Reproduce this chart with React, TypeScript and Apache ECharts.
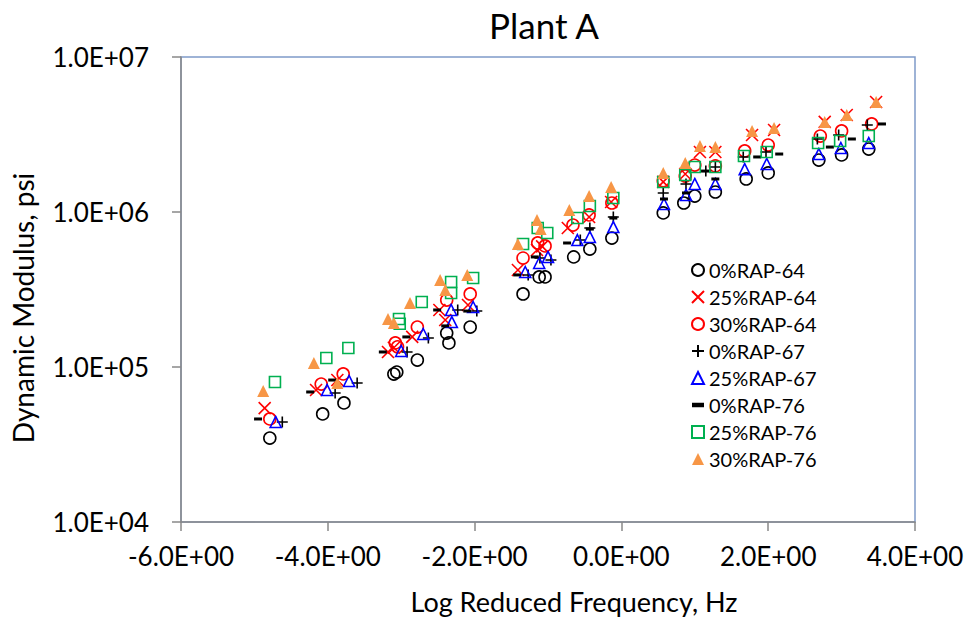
import React, { useEffect, useRef } from "react";
import * as echarts from "echarts";

// Dynamic modulus master curves, Plant A: [log reduced frequency (Hz), |E*| (psi)]
const rap0_64: [number, number][] = [
  [-4.79, 34800], [-4.07, 49800], [-3.78, 58600], [-3.1, 90000], [-3.06, 92800], [-2.78, 110900],
  [-2.38, 165600], [-2.35, 142900], [-2.06, 181100], [-1.34, 295800], [-1.12, 381100], [-1.04, 381100],
  [-0.65, 512900], [-0.43, 576800], [-0.13, 679200], [0.57, 986300], [0.85, 1143000], [1.0, 1268000],
  [1.28, 1346000], [1.7, 1633000], [2.0, 1786000], [2.69, 2163000], [3.0, 2333000], [3.37, 2547000],
];
const rap25_64: [number, number][] = [
  [-4.86, 54300], [-4.16, 71100], [-3.87, 82400], [-3.18, 125000], [-3.1, 133000], [-2.85, 156300],
  [-2.48, 233300], [-2.4, 200900], [-2.09, 251200], [-1.41, 422700], [-1.15, 568900], [-1.08, 600000],
  [-0.73, 788900], [-0.44, 929000], [-0.14, 1161000], [0.57, 1563000], [0.87, 1758000], [1.07, 2438000],
  [1.28, 2438000], [1.78, 3141000], [2.08, 3381000], [2.77, 3811000], [3.07, 4227000], [3.47, 5129000],
];
const rap30_64: [number, number][] = [
  [-4.79, 46200], [-4.09, 77600], [-3.79, 90200], [-3.08, 142900], [-3.05, 135000], [-2.78, 181100],
  [-2.38, 270400], [-2.06, 295800], [-1.34, 504700], [-1.14, 631000], [-1.04, 603900], [-0.66, 824100],
  [-0.44, 957100], [-0.13, 1143000], [0.57, 1590000], [0.87, 1706000], [1.0, 2009000], [1.28, 1982000],
  [1.68, 2477000], [2.0, 2704000], [2.71, 3090000], [3.0, 3334000], [3.41, 3698000],
];
const rap0_67: [number, number][] = [
  [-4.62, 44200], [-3.9, 67900], [-3.6, 78900], [-2.92, 125000], [-2.63, 153800], [-2.23, 233300],
  [-1.97, 229600], [-1.27, 392600], [-1.11, 504700], [-0.96, 489800], [-0.56, 659200], [-0.43, 788900],
  [-0.11, 929000], [0.57, 1327000], [0.88, 1517000], [1.15, 1837000], [1.28, 1950000], [1.66, 2265000],
  [1.97, 2438000], [2.67, 2958000], [2.96, 3141000], [3.35, 3639000],
];
const rap25_67: [number, number][] = [
  [-4.71, 44200], [-4.01, 71100], [-3.71, 81300], [-3.0, 126800], [-2.7, 163300], [-2.32, 233300],
  [-2.31, 195000], [-2.02, 243800], [-1.31, 410200], [-1.12, 468800], [-1.0, 512900], [-0.6, 659200],
  [-0.43, 690200], [-0.11, 799800], [0.58, 1127000], [0.88, 1288000], [1.0, 1517000], [1.28, 1517000],
  [1.68, 1892000], [1.98, 2042000], [2.69, 2366000], [2.99, 2588000], [3.37, 2786000],
];
const rap0_76: [number, number][] = [
  [-4.95, 46200], [-4.24, 69000], [-3.94, 82400], [-3.25, 125000], [-2.93, 156300], [-2.51, 233300],
  [-2.4, 184100], [-2.1, 229600], [-1.42, 392600], [-1.18, 512900], [-0.74, 631000], [-0.43, 776200],
  [-0.11, 914100], [0.58, 1213000], [0.88, 1327000], [1.14, 1837000], [1.28, 1633000], [1.85, 2265000],
  [2.15, 2366000], [2.84, 2624000], [3.14, 2958000], [3.55, 3698000],
];
const rap25_76: [number, number][] = [
  [-4.72, 80000], [-4.02, 114300], [-3.72, 132700], [-3.03, 204200], [-3.02, 190000], [-2.72, 262400],
  [-2.32, 353200], [-2.32, 299900], [-2.02, 375000], [-1.34, 622300], [-1.14, 788900], [-1.01, 732800],
  [-0.6, 914100], [-0.43, 1094000], [-0.11, 1230000], [0.57, 1563000], [0.87, 1734000], [1.0, 1950000],
  [1.28, 1950000], [1.67, 2296000], [1.98, 2438000], [2.68, 2786000], [2.98, 2871000], [3.37, 3090000],
];
const rap30_76: [number, number][] = [
  [-4.88, 70000], [-4.19, 106200], [-3.87, 78900], [-3.18, 204200], [-3.1, 192300], [-2.88, 258800],
  [-2.47, 363900], [-2.4, 314100], [-2.1, 392600], [-1.41, 622300], [-1.15, 887200], [-1.1, 776200],
  [-0.71, 1030000], [-0.44, 1268000], [-0.14, 1449000], [0.57, 1786000], [0.87, 2070000], [1.07, 2667000],
  [1.28, 2624000], [1.78, 3334000], [2.08, 3483000], [2.77, 3811000], [3.07, 4227000], [3.47, 5129000],
];

const xTicks = { min: -6, max: 4, interval: 2 };
const yRange = { min: 1e4, max: 1e7 };

const FONT = "Lato, 'Open Sans', sans-serif";
const CROSS = "path://M0 0 L10 10 M10 0 L0 10";
const PLUS = "path://M5 0 L5 10 M0 5 L10 5";
const DASH = "path://M0 0 L8 0 L8 3 L0 3 Z";

const seriesDefs = [
  { name: "0%RAP-64", data: rap0_64, symbol: "circle", size: 12, fill: "transparent", stroke: "#000000" },
  { name: "25%RAP-64", data: rap25_64, symbol: CROSS, size: 12, fill: "transparent", stroke: "#FF0000" },
  { name: "30%RAP-64", data: rap30_64, symbol: "circle", size: 12, fill: "transparent", stroke: "#FF0000" },
  { name: "0%RAP-67", data: rap0_67, symbol: PLUS, size: 11, fill: "transparent", stroke: "#000000" },
  { name: "25%RAP-67", data: rap25_67, symbol: "triangle", size: 11, fill: "transparent", stroke: "#0000FF" },
  { name: "0%RAP-76", data: rap0_76, symbol: DASH, size: [8, 3], fill: "#000000", stroke: "#000000" },
  { name: "25%RAP-76", data: rap25_76, symbol: "rect", size: 11, fill: "transparent", stroke: "#00B050" },
  { name: "30%RAP-76", data: rap30_76, symbol: "triangle", size: 12, fill: "#F79646", stroke: "#F79646" },
];

function fmtSci(v: number): string {
  if (v === 0) return "0.0E+00";
  const e = Math.floor(Math.log10(Math.abs(v)) + 1e-9);
  const m = v / Math.pow(10, e);
  const sign = e < 0 ? "-" : "+";
  return m.toFixed(1) + "E" + sign + String(Math.abs(e)).padStart(2, "0");
}

export default function App() {
  const ref = useRef<HTMLDivElement>(null);

  useEffect(() => {
    if (!ref.current) return;
    const chart = echarts.init(ref.current, undefined, { renderer: "svg" });
    const option: any = {
      animation: false,
      backgroundColor: "#ffffff",
      textStyle: { fontFamily: FONT },
      title: {
        text: "Plant A",
        left: 539,
        textAlign: "center",
        top: 2,
        textStyle: { fontFamily: FONT, fontSize: 35, fontWeight: "normal", color: "#000" },
      },
      graphic: [
        {
          type: "text",
          x: 574,
          y: 588,
          style: {
            text: "Log Reduced Frequency, Hz",
            fontFamily: FONT,
            fontSize: 27,
            fill: "#000",
            textAlign: "center",
            textVerticalAlign: "top",
          },
        },
        {
          type: "text",
          x: 23,
          y: 308,
          rotation: Math.PI / 2,
          style: {
            text: "Dynamic Modulus, psi",
            fontFamily: FONT,
            fontSize: 28,
            fill: "#000",
            textAlign: "center",
            textVerticalAlign: "middle",
          },
        },
      ],
      grid: {
        left: 181,
        top: 57,
        width: 734,
        height: 465,
        show: true,
        borderColor: "#7F9BC9",
        borderWidth: 1.5,
        backgroundColor: "transparent",
      },
      legend: {
        orient: "vertical",
        left: 691,
        top: 260,
        padding: 0,
        itemWidth: 12,
        itemHeight: 12,
        itemGap: 7,
        textStyle: { fontFamily: FONT, fontSize: 20, color: "#000" },
        data: seriesDefs.map((s) => ({ name: s.name })),
      },
      xAxis: {
        type: "value",
        min: xTicks.min,
        max: xTicks.max,
        interval: xTicks.interval,
        axisLine: { show: true, onZero: false, lineStyle: { color: "#888888", width: 1.5 } },
        axisTick: { show: true, inside: false, length: 9, lineStyle: { color: "#888888", width: 1.5 } },
        axisLabel: { formatter: fmtSci, fontFamily: FONT, fontSize: 26, color: "#000", margin: 21 },
        splitLine: { show: false },
      },
      yAxis: {
        type: "log",
        logBase: 10,
        min: yRange.min,
        max: yRange.max,
        axisLine: { show: true, onZero: false, lineStyle: { color: "#888888", width: 1.5 } },
        axisTick: { show: true, inside: false, length: 9, lineStyle: { color: "#888888", width: 1.5 } },
        minorTick: { show: false },
        axisLabel: {
          formatter: (v: number) => fmtSci(v),
          fontFamily: FONT,
          fontSize: 26,
          color: "#000",
          margin: 32,
        },
        splitLine: { show: false },
      },
      series: seriesDefs.map((s) => ({
        name: s.name,
        type: "scatter",
        data: s.data,
        symbol: s.symbol,
        symbolSize: s.size,
        itemStyle: {
          color: s.fill,
          borderColor: s.stroke,
          borderWidth: s.name === "0%RAP-76" || s.name === "30%RAP-76" ? 0 : 1.6,
          opacity: 1,
        },
        emphasis: { disabled: true },
      })),
    };
    chart.setOption(option);
    return () => chart.dispose();
  }, []);

  return (
    <div
      ref={ref}
      style={{ position: "absolute", left: 0, top: 0, width: 971, height: 623, background: "#fff" }}
    />
  );
}
